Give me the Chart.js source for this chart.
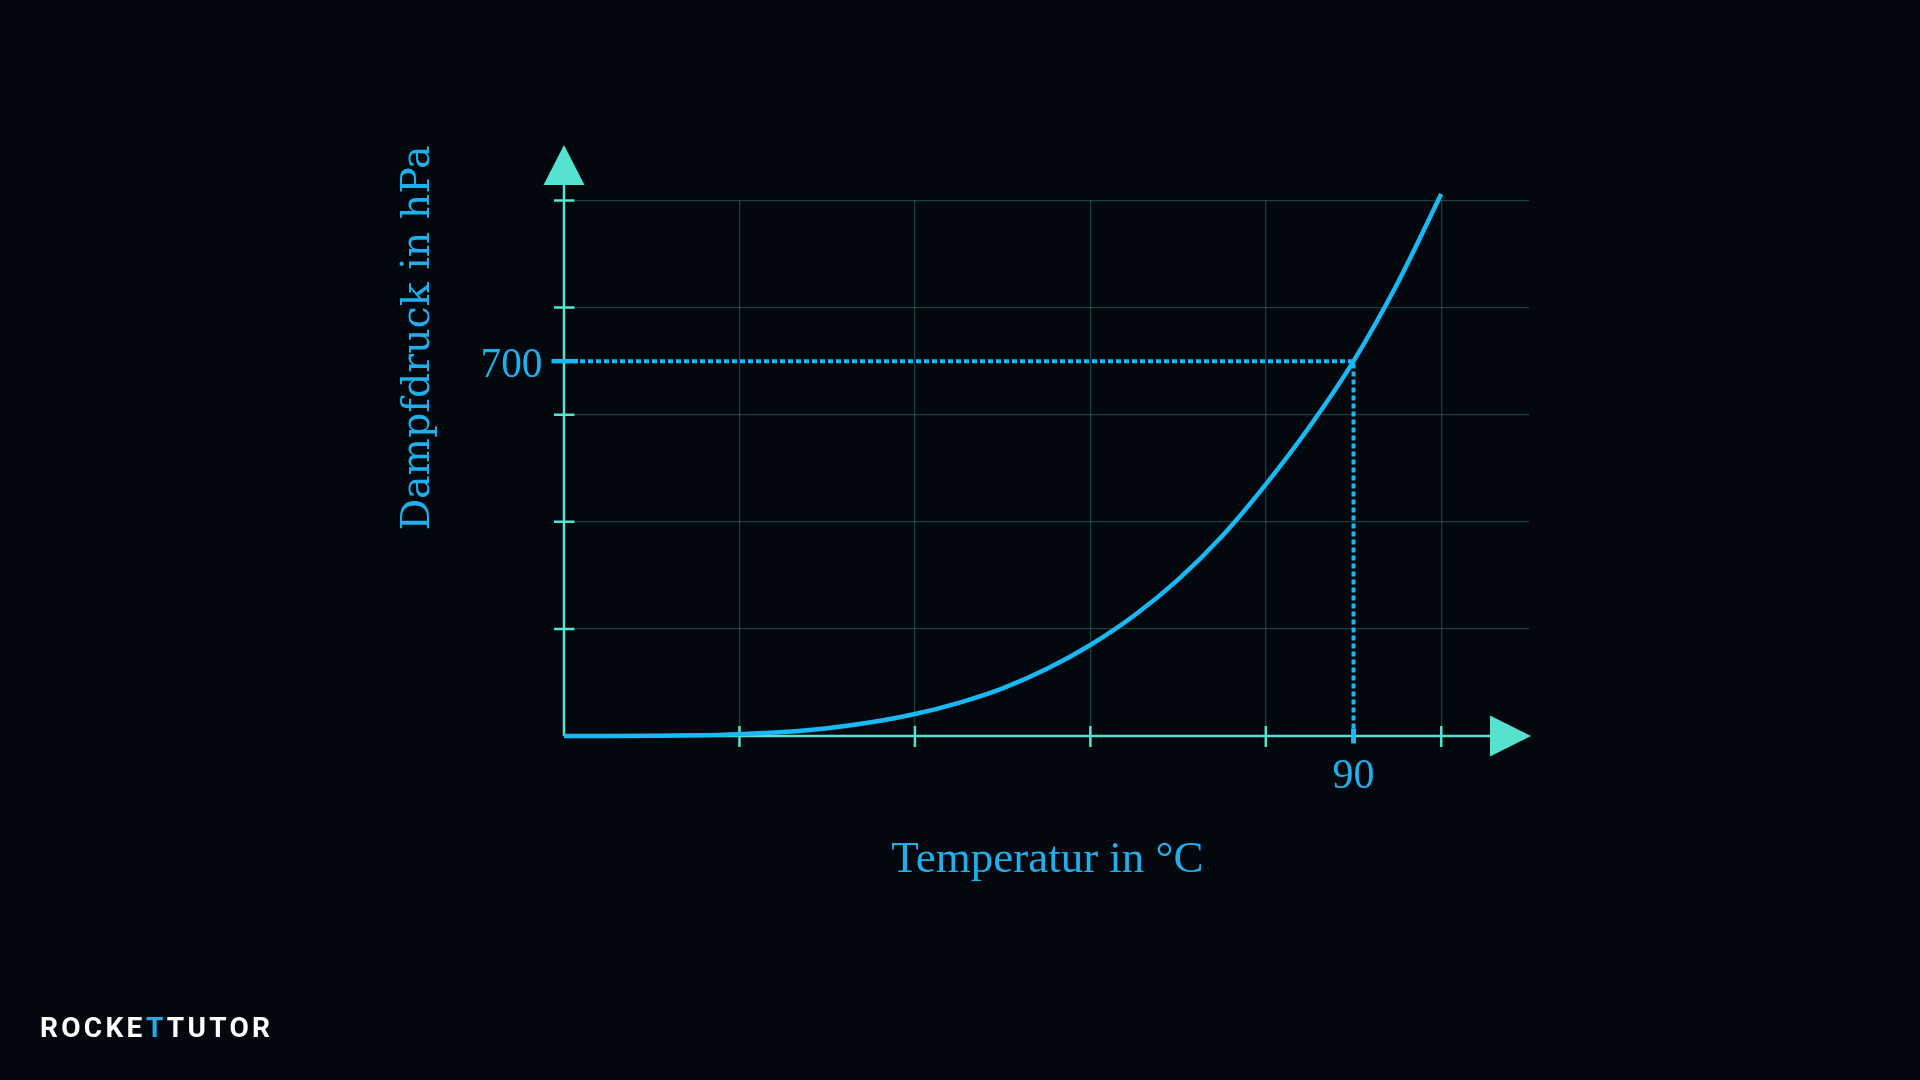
<!DOCTYPE html>
<html>
<head>
<meta charset="utf-8">
<script src="https://cdn.jsdelivr.net/npm/chart.js@4.4.1/dist/chart.umd.min.js"></script>
<style>
    html, body { margin: 0; padding: 0; background: #02080d; overflow: hidden; }
    #wrap { position: relative; width: 1920px; height: 1080px; }
    #logo { position: absolute; left: 40px; top: 1014px; font-family: Roboto, sans-serif; font-weight: 700;
            font-size: 28px; line-height: 28px; color: #ffffff; letter-spacing: 3.3px; white-space: nowrap; }
    #logo .b { color: #2aa8e6; }
</style>
</head>
<body>
<div id="wrap">
    <canvas id="chart" width="1920" height="1080"></canvas>
    <div id="logo">ROCKE<span class="b">T</span>TUTO<span>R</span></div>
</div>
<script>
// Values (temperature in °C, vapour pressure in hPa).
const temps = [0, 5, 10, 15, 20, 25, 30, 35, 40, 45, 50, 55, 60, 65, 70, 75, 80, 85, 90, 95, 100];
const pressures = [0, 0, 0.3, 1.2, 3.5, 7.5, 14.5, 25.5, 41, 62, 89, 125, 170, 225, 292, 373, 470, 578, 700, 845, 1012];

// Grid / tick positions and the highlighted reading.
const xGrid = [0, 20, 40, 60, 80, 100];
const yGrid = [0, 200, 400, 600, 800, 1000];
const markTemp = 90;
const markPressure = 700;

const xTitle = 'Temperatur in °C';
const yTitle = 'Dampfdruck in hPa';

const axisColor = '#55e3cf';
const gridColor = 'rgba(85, 227, 207, 0.26)';
const curveColor = '#18b9f4';
const textColor = '#1fb0ec';

// Pick a font size so the text comes out at the wanted width.
function fitFont(ctx, text, family, width) {
    ctx.font = '100px ' + family;
    const size = 100 * width / ctx.measureText(text).width;
    return size.toFixed(1) + 'px ' + family;
}

const decor = {
    id: 'decor',
    beforeDatasetsDraw(chart) {
        const { ctx, scales: { x, y } } = chart;
        const x0 = x.getPixelForValue(0);
        const y0 = y.getPixelForValue(0);
        const area = chart.chartArea;
        ctx.save();
        ctx.strokeStyle = axisColor;
        ctx.lineWidth = 2.5;
        ctx.beginPath();
        ctx.moveTo(x0, y0);
        ctx.lineTo(x0, area.top - 16);
        ctx.moveTo(x0, y0);
        ctx.lineTo(area.right - 39, y0);
        // small ticks crossing the axes
        yGrid.filter(v => v !== 0).forEach(v => {
            const py = y.getPixelForValue(v);
            ctx.moveTo(x0 - 10, py);
            ctx.lineTo(x0 + 10.5, py);
        });
        xGrid.filter(v => v !== 0).forEach(v => {
            const px = x.getPixelForValue(v);
            ctx.moveTo(px, y0 - 10);
            ctx.lineTo(px, y0 + 11);
        });
        ctx.stroke();
        ctx.restore();
    },
    afterDraw(chart) {
        const { ctx, scales: { x, y } } = chart;
        const x0 = x.getPixelForValue(0);
        const y0 = y.getPixelForValue(0);
        const area = chart.chartArea;
        const mx = x.getPixelForValue(markTemp);
        const my = y.getPixelForValue(markPressure);
        ctx.save();

        // arrow heads
        ctx.fillStyle = axisColor;
        ctx.beginPath();
        ctx.moveTo(x0, area.top - 55.5);
        ctx.lineTo(x0 - 20.5, area.top - 15.5);
        ctx.lineTo(x0 + 20.5, area.top - 15.5);
        ctx.closePath();
        ctx.fill();
        ctx.beginPath();
        ctx.moveTo(area.right + 2, y0);
        ctx.lineTo(area.right - 39, y0 - 20.5);
        ctx.lineTo(area.right - 39, y0 + 20.5);
        ctx.closePath();
        ctx.fill();

        // thick marks for the reading
        ctx.strokeStyle = curveColor;
        ctx.beginPath();
        ctx.lineWidth = 4.5;
        ctx.moveTo(x0 - 12.5, my);
        ctx.lineTo(x0 + 14, my);
        ctx.stroke();
        ctx.beginPath();
        ctx.lineWidth = 5;
        ctx.moveTo(mx, y0 - 7.5);
        ctx.lineTo(mx, y0 + 7.5);
        ctx.stroke();

        // labels
        ctx.fillStyle = textColor;
        ctx.textBaseline = 'alphabetic';
        ctx.font = fitFont(ctx, String(markPressure), '"Liberation Serif"', 62);
        ctx.textAlign = 'right';
        ctx.fillText(String(markPressure), x0 - 21.5, my + 16);
        ctx.font = fitFont(ctx, String(markTemp), '"Liberation Serif"', 42);
        ctx.textAlign = 'center';
        ctx.fillText(String(markTemp), mx, y0 + 52);

        ctx.font = fitFont(ctx, xTitle, '"Liberation Serif"', 312);
        ctx.fillText(xTitle, 1047.5, 871.5);

        ctx.translate(429, 338);
        ctx.rotate(-Math.PI / 2);
        ctx.font = fitFont(ctx, yTitle, '"DejaVu Serif"', 385);
        ctx.fillText(yTitle, 0, 0);
        ctx.restore();
    }
};

document.addEventListener('DOMContentLoaded', () => {
    const ctx = document.getElementById('chart').getContext('2d');

    new Chart(ctx, {
        type: 'line',
        data: {
            datasets: [
                {
                    data: temps.map((t, i) => ({ x: t, y: pressures[i] })),
                    borderColor: curveColor,
                    borderWidth: 4.5,
                    pointRadius: 0,
                    cubicInterpolationMode: 'monotone',
                    clip: false,
                    order: 0
                },
                {
                    data: [
                        { x: 0, y: markPressure },
                        { x: markTemp, y: markPressure },
                        { x: markTemp, y: 0 }
                    ],
                    borderColor: curveColor,
                    borderWidth: 4,
                    borderDash: [5, 3],
                    pointRadius: 0,
                    tension: 0,
                    clip: false,
                    order: 1
                }
            ]
        },
        options: {
            responsive: false,
            animation: false,
            events: [],
            layout: { padding: { left: 564, top: 200.5, right: 391, bottom: 344 } },
            plugins: { legend: { display: false }, tooltip: { enabled: false } },
            scales: {
                x: {
                    type: 'linear',
                    min: 0,
                    max: 110,
                    afterBuildTicks: s => { s.ticks = xGrid.map(v => ({ value: v })); },
                    afterFit: s => { s.height = 0; },
                    ticks: { display: false },
                    border: { display: false },
                    grid: {
                        drawTicks: false,
                        lineWidth: 1.3,
                        color: c => (c.tick && c.tick.value === 0) ? 'rgba(0,0,0,0)' : gridColor
                    }
                },
                y: {
                    type: 'linear',
                    min: 0,
                    max: 1000,
                    afterBuildTicks: s => { s.ticks = yGrid.map(v => ({ value: v })); },
                    afterFit: s => { s.width = 0; },
                    ticks: { display: false },
                    border: { display: false },
                    grid: {
                        drawTicks: false,
                        lineWidth: 1.3,
                        color: c => (c.tick && c.tick.value === 0) ? 'rgba(0,0,0,0)' : gridColor
                    }
                }
            }
        },
        plugins: [decor]
    });
});
</script>
</body>
</html>
